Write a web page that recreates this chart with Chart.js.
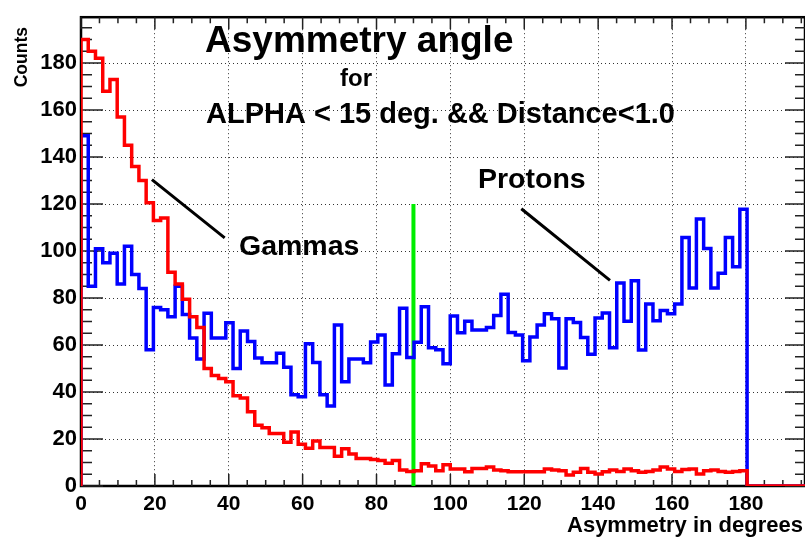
<!DOCTYPE html>
<html>
<head>
<meta charset="utf-8">
<script src="https://cdn.jsdelivr.net/npm/chart.js@4.4.1/dist/chart.umd.min.js"></script>
<style>
  html, body { margin: 0; padding: 0; background: #fff; }
  #wrap { width: 805px; height: 541px; }
</style>
</head>
<body>
<div id="wrap"><canvas id="c" width="805" height="541"></canvas></div>
<script>
/* ── histogram contents : 1.96 deg bins from 0 ── */
const BIN_W = 1.96;
const X_MAX = 196;
const Y_MAX = 199.5;

const GAMMAS = [
  190, 185, 182, 168, 173, 157, 145, 136, 130, 120.5,
  113, 114, 91, 86, 79.5, 72, 67.5, 50, 47, 45.7,
  44.4, 38.4, 37.5, 31.6, 25.8, 24.8, 22.3, 22.3, 18.6, 23,
  17.8, 16.1, 19.2, 16.4, 16.4, 12.7, 15.9, 13.6, 11.7, 11.7,
  11.3, 10.9, 9.7, 10.9, 6.8, 6.2, 6.5, 9.5, 8.5, 6.5,
  9.0, 7.2, 7.2, 6.1, 7.4, 7.4, 8.1, 6.8, 6.5, 6.1,
  6.1, 6.1, 6.1, 6.1, 7.2, 6.8, 6.5, 4.7, 5.8, 7.4,
  5.8, 5.1, 6.1, 6.8, 6.2, 7.2, 6.5, 5.8, 6.2, 6.8,
  8.1, 7.2, 6.2, 7.0, 7.2, 5.1, 6.5, 6.8, 6.2, 5.8,
  6.2, 6.5
];

const PROTONS = [
  149, 85, 101, 95, 99, 86, 102, 90, 84, 58,
  76, 75, 72, 85, 73, 63, 54, 73.5, 63, 63,
  69.5, 50, 66, 61.5, 54.5, 52.5, 52.5, 56.5, 50.5, 38.8,
  38, 60.5, 52.6, 38.8, 34, 68.5, 44.4, 54, 54, 52.4,
  61.3, 64.3, 43, 56.3, 75.6, 54.7, 61.2, 76.3, 58.8, 58,
  52, 72.3, 65.2, 70.1, 66.4, 66.4, 67.4, 72.6, 81.6, 65.3,
  64.3, 53.3, 63.4, 68.5, 73.3, 71.2, 50.2, 71.2, 69.6, 63.2,
  56.1, 71.5, 73.6, 58.8, 86.4, 70.1, 87.3, 57.9, 77.4, 70.3,
  74.7, 73.3, 77.4, 105.7, 84.3, 113.6, 101.1, 84.3, 90.5, 105.7,
  93.3, 117.8
];

const CUT_X = 90;       // ligne verte
const CUT_TOP = 120;

const X_TICKS = [0, 20, 40, 60, 80, 100, 120, 140, 160, 180];
const Y_TICKS = [0, 20, 40, 60, 80, 100, 120, 140, 160, 180];

// pointeurs des étiquettes (coordonnées données)
const GAMMA_PTR  = [[19.2, 130.4], [38.9, 105.6]];
const PROTON_PTR = [[119.2, 118], [143.2, 87.5]];

const FONT = '"Liberation Sans", Arial, Helvetica, sans-serif';

function histPoints(counts) {
  const pts = [{ x: 0, y: 0 }];
  counts.forEach((v, i) => pts.push({ x: i * BIN_W, y: v }));
  pts.push({ x: counts.length * BIN_W, y: 0 }, { x: X_MAX, y: 0 });
  return pts;
}

/* ── cadre + graduations intérieures (style ROOT) ── */
const frame = {
  id: 'frame',
  beforeDatasetsDraw(chart) {
    const { ctx, chartArea: a, scales: { x, y } } = chart;
    ctx.save();
    ctx.strokeStyle = '#000';
    ctx.lineWidth = 2.5;
    ctx.strokeRect(a.left, a.top, a.right - a.left, a.bottom - a.top);
    ctx.lineWidth = 1.5;
    ctx.strokeStyle = '#222';
    ctx.beginPath();
    for (let v = 0; v <= X_MAX; v += 5) {
      const px = x.getPixelForValue(v);
      const len = v % 20 === 0 ? 12 : 6;
      ctx.moveTo(px, a.bottom); ctx.lineTo(px, a.bottom - len);
      ctx.moveTo(px, a.top);    ctx.lineTo(px, a.top + len);
    }
    for (let v = 0; v <= Y_MAX; v += 5) {
      const py = y.getPixelForValue(v);
      const major = v % 20 === 0;
      ctx.moveTo(a.left, py);  ctx.lineTo(a.left + (major ? 22 : 11), py);
      ctx.moveTo(a.right, py); ctx.lineTo(a.right - (major ? 20 : 10), py);
    }
    ctx.stroke();
    ctx.restore();
  }
};

/* ── titres, étiquettes et pointeurs ── */
const notes = {
  id: 'notes',
  afterDatasetsDraw(chart) {
    const { ctx, scales: { x, y } } = chart;
    ctx.save();
    ctx.fillStyle = '#000';
    ctx.textBaseline = 'alphabetic';
    const txt = (s, px, py, size, align) => {
      ctx.font = 'bold ' + size + 'px ' + FONT;
      ctx.textAlign = align || 'left';
      ctx.fillText(s, px, py);
    };
    txt('Asymmetry angle', 205, 52, 37);
    txt('for', 340, 86, 24);
    txt('ALPHA < 15 deg. && Distance<1.0', 206, 123, 29);
    txt('Gammas', 239, 255, 28.5);
    txt('Protons', 478, 188, 28.5);
    txt('Asymmetry in degrees', 803, 532, 22, 'right');

    ctx.save();
    ctx.translate(27, 27);
    ctx.rotate(-Math.PI / 2);
    txt('Counts', 0, 0, 17.5, 'right');
    ctx.restore();

    ctx.strokeStyle = '#000';
    ctx.lineWidth = 3;
    ctx.beginPath();
    [GAMMA_PTR, PROTON_PTR].forEach(p => {
      ctx.moveTo(x.getPixelForValue(p[0][0]), y.getPixelForValue(p[0][1]));
      ctx.lineTo(x.getPixelForValue(p[1][0]), y.getPixelForValue(p[1][1]));
    });
    ctx.stroke();
    ctx.restore();
  }
};

const tickFont = size => ({ family: FONT, size, weight: 'bold' });

new Chart(document.getElementById('c'), {
  type: 'line',
  data: {
    datasets: [
      {
        label: 'Gammas',
        data: histPoints(GAMMAS),
        borderColor: '#ff0000',
        borderWidth: 3.5,
        stepped: true,
        pointRadius: 0,
        fill: false,
      },
      {
        label: 'Protons',
        data: histPoints(PROTONS),
        borderColor: '#0000ff',
        borderWidth: 3.5,
        stepped: true,
        pointRadius: 0,
        fill: false,
      },
      {
        label: 'cut',
        data: [{ x: CUT_X, y: 0 }, { x: CUT_X, y: CUT_TOP }],
        borderColor: '#00ee00',
        borderWidth: 4,
        pointRadius: 0,
        fill: false,
      },
    ],
  },
  options: {
    responsive: false,
    animation: false,
    layout: { padding: { top: 4, right: 0, left: 0, bottom: 0 } },
    plugins: { legend: { display: false }, tooltip: { enabled: false } },
    scales: {
      x: {
        type: 'linear',
        min: 0,
        max: X_MAX,
        afterBuildTicks: s => { s.ticks = X_TICKS.map(v => ({ value: v })); },
        afterFit: s => { s.height = 55; },
        ticks: { color: '#000', font: tickFont(21), padding: 6, maxRotation: 0, autoSkip: false },
        grid: { color: 'rgba(0,0,0,0.8)', lineWidth: 1, drawTicks: false },
        border: { display: false, dash: [1, 3] },
      },
      y: {
        min: 0,
        max: Y_MAX,
        afterBuildTicks: s => { s.ticks = Y_TICKS.map(v => ({ value: v })); },
        afterFit: s => { s.width = 81; },
        ticks: { color: '#000', font: tickFont(22), padding: 4 },
        grid: { color: 'rgba(0,0,0,0.8)', lineWidth: 1, drawTicks: false },
        border: { display: false, dash: [1, 3] },
      },
    },
  },
  plugins: [frame, notes],
});
</script>
</body>
</html>
